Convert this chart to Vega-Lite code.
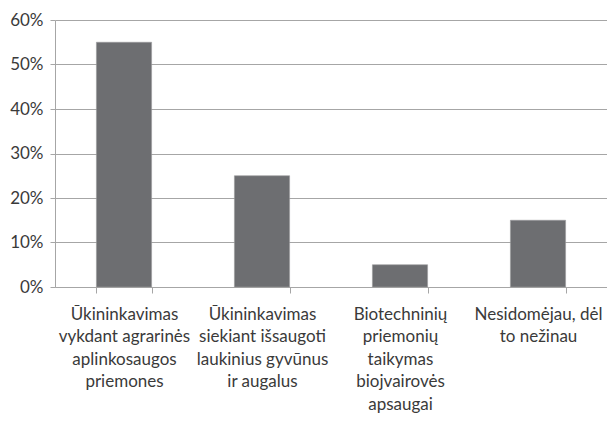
{
  "$schema": "https://vega.github.io/schema/vega-lite/v6.json",
  "width": 552,
  "height": 267,
  "autosize": "none",
  "padding": {"left": 55, "top": 20, "right": 0, "bottom": 135},
  "background": "white",
  "data": {
    "values": [
      {"cat": "Ūkininkavimas|vykdant agrarinės|aplinkosaugos|priemones", "v": 0.55},
      {"cat": "Ūkininkavimas|siekiant išsaugoti|laukinius gyvūnus|ir augalus", "v": 0.25},
      {"cat": "Biotechninių|priemonių|taikymas|biojvairovės|apsaugai", "v": 0.05},
      {"cat": "Nesidomėjau, dėl|to nežinau", "v": 0.15}
    ]
  },
  "mark": {"type": "bar", "color": "#6d6e71", "stroke": "#9a9a9c", "strokeWidth": 0.6},
  "encoding": {
    "x": {
      "field": "cat", "type": "nominal", "sort": null,
      "scale": {"paddingInner": 0.6, "paddingOuter": 0.3},
      "axis": {
        "title": null, "labelAngle": 0, "labelExpr": "split(datum.label, '|')",
        "labelLineHeight": 22.5, "labelFontSize": 17, "labelFont": "Lato",
        "labelColor": "#3a3a3a", "labelLimit": 0, "labelPadding": 13,
        "domainColor": "#a6a6a6", "tickColor": "#a6a6a6", "tickSize": 6, "tickBand": "extent",
        "grid": false, "labelBaseline": "top"
      }
    },
    "y": {
      "field": "v", "type": "quantitative",
      "scale": {"domain": [0, 0.6]},
      "axis": {
        "title": null, "format": ".0%", "values": [0, 0.1, 0.2, 0.3, 0.4, 0.5, 0.6],
        "labelFontSize": 17, "labelFont": "Lato",
        "labelColor": "#3a3a3a", "labelPadding": 7,
        "domainColor": "#a6a6a6", "tickColor": "#a6a6a6", "tickSize": 5,
        "grid": true, "gridColor": "#a6a6a6", "gridWidth": 1
      }
    }
  },
  "config": {"view": {"stroke": null}}
}
